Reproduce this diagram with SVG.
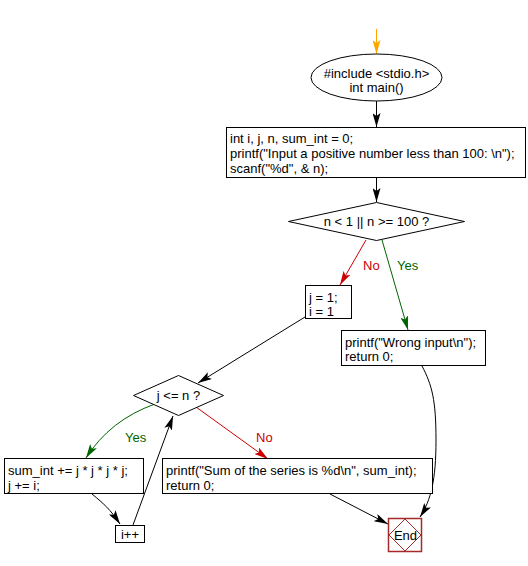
<svg xmlns="http://www.w3.org/2000/svg" width="528" height="566" viewBox="0 0 528 566">
<style>
text{font-family:"Liberation Sans",Arial,sans-serif;font-size:13px;fill:#000}
.n{fill:#fff;stroke:#000;stroke-width:1}
.c{fill:none;stroke:#000;stroke-width:1}
.red{stroke:#cc0000}
.grn{stroke:#006400}
.org{stroke:#ffa500}
.lr{fill:#cc0000}
.lg{fill:#006400}
.mid{text-anchor:middle}
</style>
<defs>
<marker id="ab" markerUnits="userSpaceOnUse" markerWidth="14" markerHeight="8" refX="14" refY="4" orient="auto"><path d="M0,0 L14,4 L0,8 L3,4 z" fill="#000"/></marker>
<marker id="ar" markerUnits="userSpaceOnUse" markerWidth="14" markerHeight="8" refX="14" refY="4" orient="auto"><path d="M0,0 L14,4 L0,8 L3,4 z" fill="#cc0000"/></marker>
<marker id="ag" markerUnits="userSpaceOnUse" markerWidth="14" markerHeight="8" refX="14" refY="4" orient="auto"><path d="M0,0 L14,4 L0,8 L3,4 z" fill="#006400"/></marker>
<marker id="ao" markerUnits="userSpaceOnUse" markerWidth="14" markerHeight="8" refX="14" refY="4" orient="auto"><path d="M0,0 L14,4 L0,8 L3,4 z" fill="#ffa500"/></marker>
</defs>
<g id="connectors">
<path class="c org" d="M376.5,29 L376.5,54" marker-end="url(#ao)"/>
<path class="c" d="M376.5,101 L376.5,127" marker-end="url(#ab)"/>
<path class="c" d="M376.5,177 L376.5,202" marker-end="url(#ab)"/>
<path class="c red" d="M366,240 L340,285" marker-end="url(#ar)"/>
<path class="c grn" d="M382,240 L408,330" marker-end="url(#ag)"/>
<path class="c" d="M305,317 L198,383" marker-end="url(#ab)"/>
<path class="c grn" d="M155,404 Q110,420 86,458" marker-end="url(#ag)"/>
<path class="c red" d="M196,407 L268,459" marker-end="url(#ar)"/>
<path class="c" d="M92,494 C104,504 110,509 120,524" marker-end="url(#ab)"/>
<path class="c" d="M133,525 L173,416" marker-end="url(#ab)"/>
<path class="c" d="M330,494 L388,524" marker-end="url(#ab)"/>
<path class="c" d="M422,366 C432,385 436,400 436,440 C436,480 431,500 420,517" marker-end="url(#ab)"/>
<text class="lr" x="363" y="270">No</text>
<text class="lg" x="397" y="270">Yes</text>
<text class="lg" x="125" y="442">Yes</text>
<text class="lr" x="256" y="442">No</text>
</g>
<g id="start">
<ellipse class="n" cx="376.5" cy="77.5" rx="65.5" ry="23.5"/>
<text class="mid" x="376.5" y="78">#include &lt;stdio.h&gt;</text>
<text class="mid" x="376.5" y="92">int main()</text>
</g>
<g id="init">
<rect class="n" x="226.5" y="127.5" width="299" height="50"/>
<text x="230" y="143">int i, j, n, sum_int = 0;</text>
<text x="230" y="158">printf("Input a positive number less than 100: \n");</text>
<text x="230" y="173">scanf("%d", &amp; n);</text>
</g>
<g id="check">
<path class="n" d="M288.5,221.5 L376.5,202.5 L464.5,221.5 L376.5,240.5 z"/>
<text class="mid" x="376.5" y="226">n &lt; 1 || n &gt;= 100 ?</text>
</g>
<g id="initj">
<rect class="n" x="305.5" y="285.5" width="46" height="33"/>
<text x="309" y="302">j = 1;</text>
<text x="309" y="316">i = 1</text>
</g>
<g id="wrong">
<rect class="n" x="341.5" y="330.5" width="144" height="35"/>
<text x="345" y="347">printf("Wrong input\n");</text>
<text x="345" y="361">return 0;</text>
</g>
<g id="loop">
<path class="n" d="M133.5,395.5 L178.5,375.5 L223.5,395.5 L178.5,415.5 z"/>
<text class="mid" x="178.5" y="400">j &lt;= n ?</text>
</g>
<g id="body">
<rect class="n" x="4.5" y="458.5" width="139" height="35"/>
<text x="8" y="475">sum_int += j * j * j * j;</text>
<text x="8" y="490">j += i;</text>
</g>
<g id="inc">
<rect class="n" x="115.5" y="525.5" width="29" height="17"/>
<text class="mid" x="130" y="539">i++</text>
</g>
<g id="result">
<rect class="n" x="162.5" y="458.5" width="270" height="35"/>
<text x="166" y="475">printf("Sum of the series is %d\n", sum_int);</text>
<text x="166" y="490">return 0;</text>
</g>
<g id="end">
<rect x="388.5" y="518.5" width="33" height="33" fill="#fff" stroke="#a52a2a" stroke-width="1.5"/>
<path d="M405,519 L421,535 L405,551 L389,535 z" fill="none" stroke="#a52a2a" stroke-width="1"/>
<text class="mid" x="405.5" y="540">End</text>
</g>
</svg>
